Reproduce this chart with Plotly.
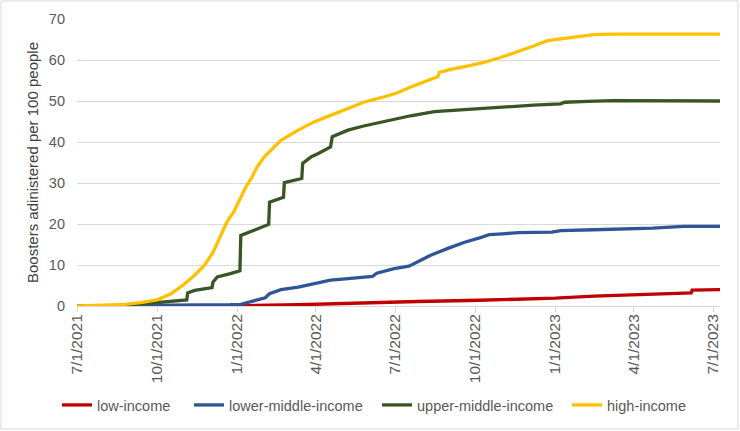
import plotly.graph_objects as go

# ---------------- data ----------------
high_dates = ["2021-07-01", "2021-07-28", "2021-08-20", "2021-09-12", "2021-10-01", "2021-10-17",
              "2021-11-01", "2021-11-13", "2021-11-24", "2021-12-04", "2021-12-16", "2021-12-20",
              "2021-12-28", "2022-01-05", "2022-01-11", "2022-01-17", "2022-01-24", "2022-02-01",
              "2022-02-20", "2022-03-12", "2022-03-30", "2022-04-18", "2022-05-08", "2022-05-26",
              "2022-06-15", "2022-07-04", "2022-07-19", "2022-07-30", "2022-08-19", "2022-08-21",
              "2022-09-03", "2022-09-22", "2022-10-11", "2022-10-30", "2022-11-19", "2022-12-07",
              "2022-12-23", "2023-01-07", "2023-01-30", "2023-02-14", "2023-03-09", "2023-07-09"]
high_vals = [0, 0.1, 0.3, 0.8, 1.5, 3.0,
             5.3, 7.5, 9.9, 13.0, 18.4, 20.5,
             23.0, 26.5, 29.1, 31.1, 34.0, 36.4,
             40.4, 42.9, 44.9, 46.5, 48.1, 49.7,
             50.8, 52.0, 53.4, 54.3, 55.9, 57.0,
             57.7, 58.5, 59.4, 60.6, 62.0, 63.4,
             64.7, 65.1, 65.9, 66.2, 66.3, 66.3]

upper_dates = ["2021-07-01", "2021-08-10", "2021-09-01", "2021-10-01", "2021-11-01", "2021-11-04",
               "2021-11-05", "2021-11-13", "2021-11-24", "2021-12-03", "2021-12-04", "2021-12-09",
               "2021-12-24", "2022-01-04", "2022-01-05", "2022-01-17", "2022-02-06", "2022-02-07",
               "2022-02-23", "2022-02-24", "2022-03-16", "2022-03-17", "2022-03-27", "2022-04-04",
               "2022-04-18", "2022-04-20", "2022-05-08", "2022-05-26", "2022-06-15", "2022-07-04",
               "2022-07-19", "2022-08-15", "2022-09-22", "2022-10-30", "2022-12-07", "2023-01-07",
               "2023-01-12", "2023-02-07", "2023-03-09", "2023-07-09"]
upper_vals = [0, 0, 0.3, 0.8, 1.4, 1.5,
              3.2, 3.8, 4.2, 4.5, 5.8, 7.1,
              7.9, 8.6, 17.2, 18.2, 19.9, 25.3,
              26.5, 30.1, 31.1, 34.8, 36.4, 37.2,
              38.8, 41.3, 42.9, 43.9, 44.9, 45.7,
              46.4, 47.4, 48.0, 48.4, 49.0, 49.3,
              49.7, 49.9, 50.1, 50.0]

lower_dates = ["2021-07-01", "2021-11-01", "2021-12-24", "2022-01-05", "2022-01-17", "2022-02-02",
               "2022-02-07", "2022-02-20", "2022-03-12", "2022-03-30", "2022-04-18", "2022-05-08",
               "2022-05-26", "2022-06-05", "2022-06-10", "2022-06-30", "2022-07-17", "2022-07-27",
               "2022-08-11", "2022-08-30", "2022-09-18", "2022-10-06", "2022-10-17", "2022-11-01",
               "2022-11-20", "2022-12-28", "2023-01-07", "2023-02-14", "2023-03-23", "2023-04-23",
               "2023-05-28", "2023-07-09"]
lower_vals = [0, 0.1, 0.3, 0.4, 1.0, 2.0,
              3.0, 4.0, 4.6, 5.5, 6.3, 6.7,
              7.1, 7.2, 8.0, 9.1, 9.7, 10.7,
              12.4, 14.0, 15.5, 16.6, 17.4, 17.6,
              17.9, 18.0, 18.4, 18.6, 18.8, 19.0,
              19.4, 19.4]

low_dates = ["2021-07-01", "2021-12-20", "2022-01-10", "2022-03-12", "2022-05-26", "2022-07-27",
             "2022-10-06", "2022-11-20", "2023-01-01", "2023-02-14", "2023-04-23", "2023-06-06",
             "2023-06-07", "2023-07-09"]
low_vals = [0, 0, 0.1, 0.3, 0.8, 1.1,
            1.4, 1.6, 1.9, 2.4, 3.0, 3.2,
            3.9, 4.0]

tick_dates = ["2021-07-01", "2021-10-01", "2022-01-01", "2022-04-01", "2022-07-01",
              "2022-10-01", "2023-01-01", "2023-04-01", "2023-07-01"]
tick_labels = ["7/1/2021", "10/1/2021", "1/1/2022", "4/1/2022", "7/1/2022",
               "10/1/2022", "1/1/2023", "4/1/2023", "7/1/2023"]

series_names = ["low-income", "lower-middle-income", "upper-middle-income", "high-income"]
series_colors = ["#C00000", "#2F5597", "#375623", "#FFC000"]
series_data = [(low_dates, low_vals), (lower_dates, lower_vals),
               (upper_dates, upper_vals), (high_dates, high_vals)]

# ---------------- figure ----------------
W, H = 740, 431
ML, MR, MT, MB = 77, 20, 19, 125
PW, PH = W - ML - MR, H - MT - MB

# legend text start positions in the reference (pixels)
legend_text_px = [97, 229, 417, 607]
LEG_Y_PX = 405

def px_to_paper_x(px):
    return (px - ML) / PW

def px_to_paper_y(py):
    return (H - MB - py) / PH

fig = go.Figure()
legend_layout = {}
for i, (name, (xs, ys), col) in enumerate(zip(series_names, series_data, series_colors)):
    key = "legend" if i == 0 else f"legend{i + 1}"
    fig.add_trace(go.Scatter(x=xs, y=ys, name=name, mode="lines",
                             line=dict(color=col, width=3.3), legend=key))
    legend_layout[key] = dict(
        x=px_to_paper_x(legend_text_px[i] - 40), xanchor="left",
        y=px_to_paper_y(LEG_Y_PX), yanchor="middle",
        orientation="h", itemwidth=30, bgcolor="rgba(0,0,0,0)",
        font=dict(size=14.5, color="#595959"))

FONT = "Liberation Sans, Arial, sans-serif"
fig.update_layout(
    width=W, height=H,
    margin=dict(l=ML, r=MR, t=MT, b=MB, autoexpand=False),
    paper_bgcolor="white", plot_bgcolor="white",
    font=dict(family=FONT, size=14, color="#595959"),
    showlegend=True,
    xaxis=dict(type="date", range=["2021-07-01", "2023-07-09"],
               tickmode="array", tickvals=tick_dates, ticktext=tick_labels,
               tickangle=-90, ticks="outside", ticklen=5, tickcolor="#D9D9D9",
               showline=True, linecolor="#D9D9D9", linewidth=1,
               showgrid=False, zeroline=False, ticklabelstandoff=-4,
               tickfont=dict(size=15.5, color="#595959")),
    yaxis=dict(range=[0, 70], dtick=10, tick0=0, showgrid=True,
               gridcolor="#D9D9D9", gridwidth=1, zeroline=False, showline=False,
               ticks="", ticklabelstandoff=11,
               tickfont=dict(size=14.5, color="#595959"),
               title=dict(text="Boosters adinistered per 100 people",
                          font=dict(size=15, color="#404040"), standoff=6)),
    **legend_layout,
)

# chart-area border
fig.add_shape(type="rect", xref="paper", yref="paper",
              x0=(1 - ML) / PW, x1=(W - 2 - ML) / PW,
              y0=(H - MB - (H - 2)) / PH, y1=(H - MB - 1) / PH,
              line=dict(color="#D9D9D9", width=1), fillcolor="rgba(0,0,0,0)", layer="below")

fig.write_html("out.html",
               config={"displayModeBar": False},
               post_script="document.body.style.margin='0';document.body.style.overflow='hidden';")
